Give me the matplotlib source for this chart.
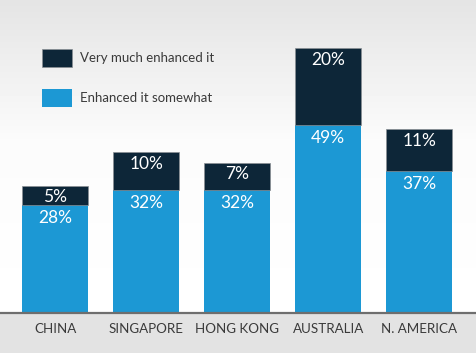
import numpy as np
from matplotlib import pyplot as plt

plt.rcParams['font.family'] = ['Lato', 'DejaVu Sans']

regions = ['CHINA', 'SINGAPORE', 'HONG KONG', 'AUSTRALIA', 'N. AMERICA']
somewhat = [28, 32, 32, 49, 37]
very_much = [5, 10, 7, 20, 11]

blue = '#1c98d4'
navy = '#0d2638'

W, H = 477, 353
fig = plt.figure(figsize=(W / 100, H / 100), dpi=100)

# background: light gradient on top, gray strip below the baseline
bg = fig.add_axes([0, 0, 1, 1], zorder=-1)
grad = np.ones((H, 1))
top = np.linspace(0.895, 0.985, 140)
grad[:140, 0] = top
grad[140:313, 0] = np.linspace(0.985, 1.0, 313 - 140)
grad[313:, 0] = 0.89
bg.imshow(grad, cmap='gray', vmin=0, vmax=1, aspect='auto', extent=[0, 1, 0, 1])
bg.axis('off')

base = 40 / H
ax = fig.add_axes([0, base, 1, 1 - base])
ax.patch.set_alpha(0)
x = np.arange(len(regions))
b1 = ax.bar(x, somewhat, width=0.725, color=blue, label='Enhanced it somewhat', zorder=2)
b2 = ax.bar(x, very_much, width=0.725, bottom=somewhat, color=navy,
            edgecolor='#8a8f94', linewidth=0.5, label='Very much enhanced it', zorder=2)
ax.set_xlim(-0.604, 4.632)
ax.set_ylim(0, 81.5)

for i in x:
    ax.annotate(f'{somewhat[i]}%', (i, somewhat[i]), xytext=(0, -13), textcoords='offset pixels',
                ha='center', va='center', color='white', fontsize=12.5)
    ax.annotate(f'{very_much[i]}%', (i, somewhat[i] + very_much[i]), xytext=(0, -11 if very_much[i] < 8 else -12),
                textcoords='offset pixels', ha='center', va='center', color='white', fontsize=12.5)

for s in ['top', 'right', 'left']:
    ax.spines[s].set_visible(False)
ax.spines['bottom'].set_color('#6e6e6e')
ax.spines['bottom'].set_linewidth(1.6)
ax.set_yticks([])
ax.set_xticks(x)
ax.set_xticklabels(regions, fontsize=9.6, color='#3a3a3a')
ax.tick_params(axis='x', length=0, pad=7)

ax.legend(handles=[b2, b1], loc='upper left', bbox_to_anchor=(42 / W, 1 - 49 / H),
          bbox_transform=fig.transFigure, frameon=False, fontsize=9.5,
          handlelength=2.3, handleheight=1.75, handletextpad=0.55, labelspacing=1.65,
          borderpad=0, borderaxespad=0, labelcolor='#3a3a3a')

fig.savefig('out.png', dpi=100)
